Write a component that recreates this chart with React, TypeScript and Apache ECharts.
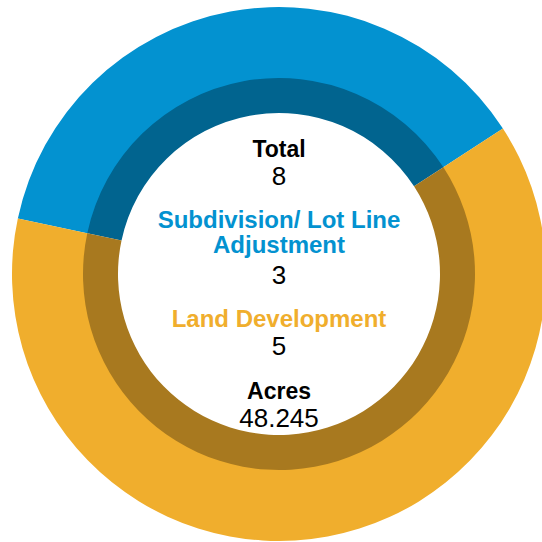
import React, { useEffect, useRef } from "react";
import * as echarts from "echarts";

const categories = ["Subdivision/ Lot Line Adjustment", "Land Development"];
const counts = [3, 5];
const totalLabel = "Total";
const totalValue = "8";
const acresLabel = "Acres";
const acresValue = "48.245";
const categoryLines = [["Subdivision/ Lot Line", "Adjustment"], ["Land Development"]];

const outerColors = ["#0392D0", "#F0AE2D"];
const innerColors = ["#01648F", "#A8791F"];

export default function App() {
  const ref = useRef<HTMLDivElement>(null);
  useEffect(() => {
    if (!ref.current) return;
    const chart = echarts.init(ref.current, undefined, { renderer: "svg" });
    const cx = 279;
    const font = "'Liberation Sans', Arial, sans-serif";
    const data = categories.map((c, i) => ({ name: c, value: counts[i] }));
    const mk = (text: string, y: number, color: string, bold: boolean, size: number) => ({
      type: "text",
      x: cx,
      y,
      style: {
        text,
        fill: color,
        font: `${bold ? "bold " : ""}${size}px ${font}`,
        textAlign: "center",
        textVerticalAlign: "middle",
      },
    });
    const texts: any[] = [
      mk(totalLabel, 149, "#000000", true, 23),
      mk(totalValue, 176, "#000000", false, 26),
      mk(categoryLines[0][0], 219, outerColors[0], true, 24),
      mk(categoryLines[0][1], 244, outerColors[0], true, 24),
      mk(String(counts[0]), 275, "#000000", false, 26),
      mk(categoryLines[1][0], 318, outerColors[1], true, 24),
      mk(String(counts[1]), 346, "#000000", false, 26),
      mk(acresLabel, 391, "#000000", true, 23),
      mk(acresValue, 418, "#000000", false, 26),
    ];
    chart.setOption({
      animation: false,
      backgroundColor: "#ffffff",
      series: [
        {
          type: "pie",
          center: [cx, 274],
          radius: [195, 267],
          startAngle: 168,
          clockwise: true,
          silent: true,
          label: { show: false },
          labelLine: { show: false },
          emphasis: { disabled: true },
          data: data.map((d, i) => ({ ...d, itemStyle: { color: outerColors[i] } })),
        },
        {
          type: "pie",
          center: [cx, 274],
          radius: [161, 196],
          startAngle: 168,
          clockwise: true,
          silent: true,
          label: { show: false },
          labelLine: { show: false },
          emphasis: { disabled: true },
          data: data.map((d, i) => ({ ...d, itemStyle: { color: innerColors[i] } })),
        },
      ],
      graphic: texts,
    });
    return () => chart.dispose();
  }, []);
  return (
    <div
      ref={ref}
      style={{ position: "fixed", left: 0, top: 0, width: 542, height: 542 }}
    />
  );
}
